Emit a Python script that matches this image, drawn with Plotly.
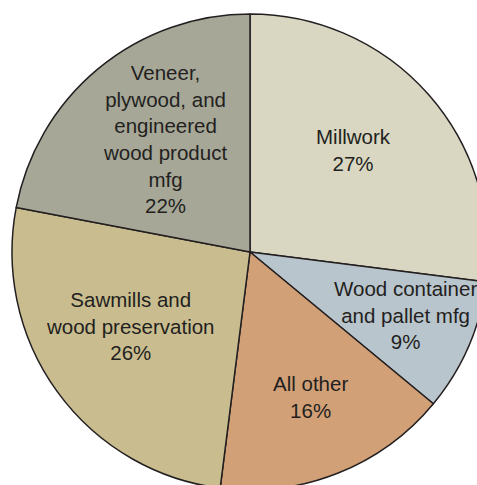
import plotly.graph_objects as go

# Data
labels = ["Millwork", "Wood container and pallet mfg", "All other",
          "Sawmills and wood preservation",
          "Veneer, plywood, and engineered wood product mfg"]
label_text = ["Millwork", "Wood container<br>and pallet mfg", "All other",
              "Sawmills and<br>wood preservation",
              "Veneer,<br>plywood, and<br>engineered<br>wood product<br>mfg"]
values = [27, 9, 16, 26, 22]

# Styles
colors = ["#d9d7c2", "#b9c5cd", "#d1a077", "#c9bd8f", "#a6a797"]
# label anchor positions in page pixels (x, y)
label_pos = [(353, 150), (405, 315), (310, 397), (130, 326), (165, 139)]

W, H = 500, 504

fig = go.Figure(go.Pie(
    labels=labels,
    values=values,
    sort=False,
    direction="clockwise",
    rotation=0,
    marker=dict(colors=colors, line=dict(color="#231f20", width=1.5)),
    textinfo="none",
    hoverinfo="label+percent",
    domain=dict(x=[12 / W, 488 / W], y=[(H - 490) / H, (H - 14) / H]),
    showlegend=False,
))

for txt, v, (px, py) in zip(label_text, values, label_pos):
    fig.add_annotation(
        x=px / W, y=1 - py / H, xref="paper", yref="paper",
        text=f"{txt}<br>{v}%", showarrow=False,
        xanchor="center", yanchor="middle", align="center",
        font=dict(family="Liberation Sans, Arial, sans-serif", size=20.5, color="#231f20"),
    )

fig.update_layout(
    width=W, height=H,
    margin=dict(l=0, r=0, t=0, b=0),
    paper_bgcolor="white", plot_bgcolor="white",
)

fig.write_html(
    "out.html",
    config={"displayModeBar": False},
    post_script="document.body.style.margin='0';document.body.style.overflow='hidden';document.documentElement.style.overflow='hidden';",
)
